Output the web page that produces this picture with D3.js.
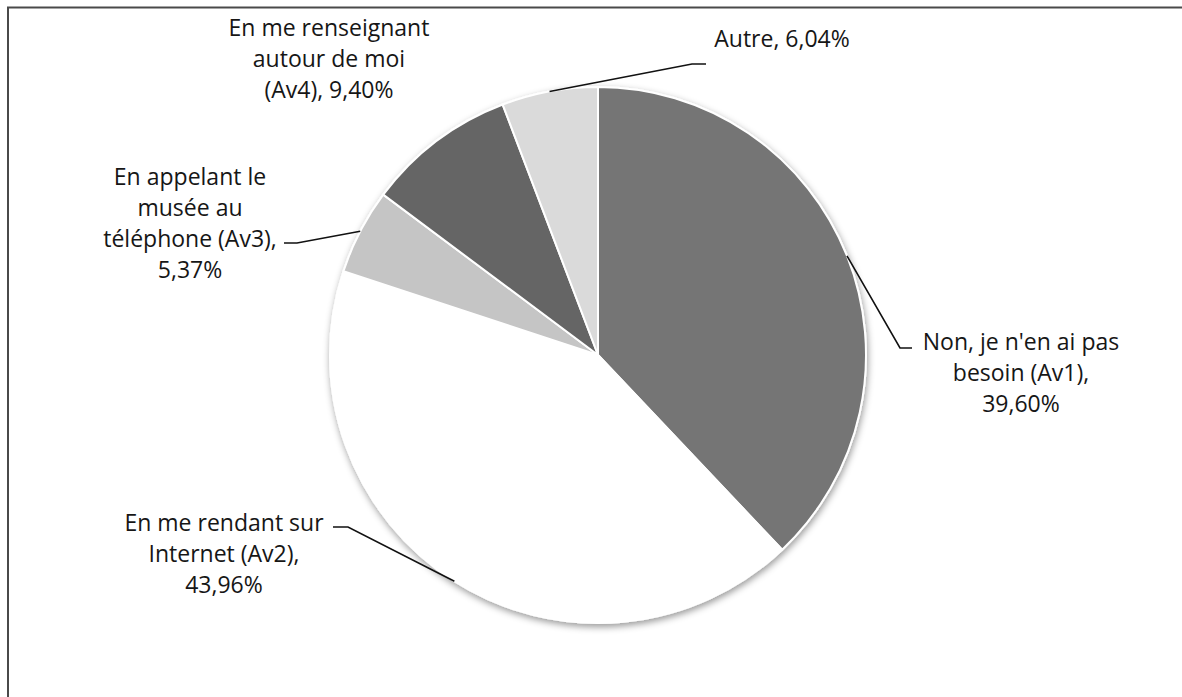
<!DOCTYPE html>
<html>
<head>
<meta charset="utf-8">
<script src="https://cdn.jsdelivr.net/npm/d3@7"></script>
<style>
  html, body { margin: 0; padding: 0; background: #fff; }
  svg { display: block; }
  text { font-family: "Open Sans", "Liberation Sans", sans-serif; fill: #161616; }
</style>
</head>
<body>
<svg id="chart" width="1182" height="697"></svg>
<script>
// Survey answers (multiple answers allowed, so percentages exceed 100 in total)
const categories = [
  "Non, je n'en ai pas besoin (Av1)",
  "En me rendant sur Internet (Av2)",
  "En appelant le musée au téléphone (Av3)",
  "En me renseignant autour de moi (Av4)",
  "Autre"
];
const values = [39.60, 43.96, 5.37, 9.40, 6.04];
const colors = ["#757575", "#ffffff", "#c5c5c5", "#656565", "#dadada"];
// Label text per slice; "|" marks a line break, {v} the formatted value
const labelTemplates = [
  "Non, je n'en ai pas|besoin (Av1),|{v}",
  "En me rendant sur|Internet (Av2),|{v}",
  "En appelant le|musée au|téléphone (Av3),|{v}",
  "En me renseignant|autour de moi|(Av4), {v}",
  "Autre, {v}"
];

const svg = d3.select("#chart");
const W = 1182, H = 697;
const cx = 598, cy = 355, R = 268;

// Outer frame (runs past the right and bottom edges)
svg.append("rect")
  .attr("x", 8).attr("y", 7.5)
  .attr("width", W + 20).attr("height", H + 20)
  .attr("fill", "#fff")
  .attr("stroke", "#4a4a4a").attr("stroke-width", 2);

const defs = svg.append("defs");
const shadow = defs.append("filter").attr("id", "pieShadow")
  .attr("x", "-20%").attr("y", "-20%").attr("width", "140%").attr("height", "140%");
shadow.append("feDropShadow")
  .attr("dx", 1).attr("dy", 3).attr("stdDeviation", 3.5)
  .attr("flood-color", "#000").attr("flood-opacity", 0.4);

const pie = d3.pie().sort(null).value(d => d.value);
const data = categories.map((c, i) => ({ name: c, value: values[i], color: colors[i], tpl: labelTemplates[i] }));
const arcs = pie(data);
const arc = d3.arc().innerRadius(0).outerRadius(R);

const g = svg.append("g").attr("transform", `translate(${cx},${cy})`);
g.append("g").attr("filter", "url(#pieShadow)")
  .selectAll("path").data(arcs).join("path")
  .attr("d", arc)
  .attr("fill", d => d.data.color)
  .attr("stroke", "#fff").attr("stroke-width", 2)
  .attr("stroke-linejoin", "round");

const fmt = v => d3.format(".2f")(v).replace(".", ",") + "%";
const edgePoint = a => {
  const m = (a.startAngle + a.endAngle) / 2;
  return [cx + R * Math.sin(m), cy - R * Math.cos(m)];
};

// Label placement: block centre x, first baseline y, and optional leader (elbow + end)
const labelPlacement = [
  { x: 1021, y: 350, leader: [[900, 348], [912, 348]] },
  { x: 224, y: 531, leader: [[348, 527], [333, 527]] },
  { x: 190, y: 185, leader: [[297, 243], [284, 243]] },
  { x: 329, y: 36, leader: null },
  { x: 782, y: 47, leader: [[692, 64], [706, 64]] }
];
const lineH = 31;

arcs.forEach((a, i) => {
  const p = labelPlacement[i];
  const lines = a.data.tpl.replace("{v}", fmt(a.data.value)).split("|");
  const t = svg.append("text")
    .attr("text-anchor", "middle")
    .attr("font-size", 23);
  lines.forEach((ln, k) => {
    t.append("tspan").attr("x", p.x).attr("y", p.y + k * lineH).text(ln);
  });
  if (p.leader) {
    const pts = [edgePoint(a), ...p.leader];
    svg.append("path")
      .attr("d", d3.line()(pts))
      .attr("fill", "none")
      .attr("stroke", "#111").attr("stroke-width", 1.6);
  }
});
</script>
</body>
</html>
